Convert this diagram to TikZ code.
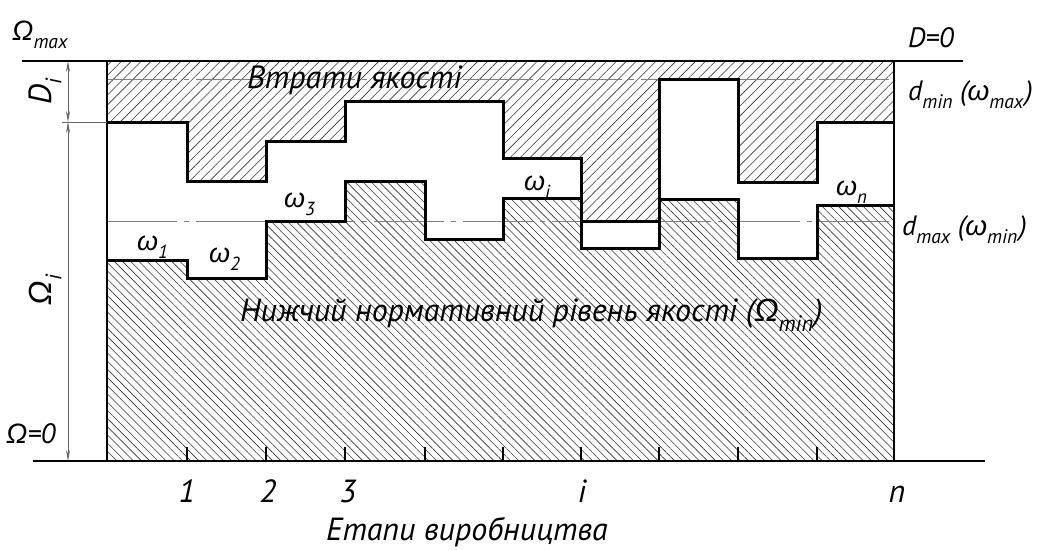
\documentclass[tikz,border=0pt]{standalone}
\usepackage{fontspec}
\usepackage{graphicx}
\setmainfont{PT Sans}
\newfontfamily\grk{Liberation Sans}
\usetikzlibrary{patterns.meta,arrows.meta}
% Greek letters taken from a font that has them
\newcommand\Om{{\grk\itshape Ω}}
\newcommand\om{{\grk\itshape ω}}
% lowered subscript scaled to the surrounding text
\newcommand\lsub[1]{\raisebox{-0.32em}{\scalebox{0.7}{#1}}}
\begin{document}
\begin{tikzpicture}[x=1pt,y=-1pt,
  lbl/.style={font=\fontsize{32}{36}\selectfont\itshape, inner sep=0pt},
  sidelbl/.style={font=\fontsize{28}{32}\selectfont\itshape, inner sep=0pt},
  omlbl/.style={font=\fontsize{27}{30}\selectfont\itshape, inner sep=0pt, anchor=base west},
  frameline/.style={line width=2pt},
  stepline/.style={line width=3pt, line join=miter},
  axisline/.style={line width=2.2pt},
  centreline/.style={gray, line width=0.9pt, dash pattern=on 70pt off 7pt on 5pt off 7pt},
  dimline/.style={black!60, line width=0.7pt, >={Stealth[length=11pt,width=4pt]}},
  tick/.style={line width=1.3pt}]
\useasboundingbox (0,0) rectangle (1040,549);

% losses (upper hatched band) and the lower normative level
\fill[pattern={Lines[angle=45,distance=7pt,line width=0.6pt]}, pattern color=black!80]
  (107,61) -- (107,122) -- (187,122) -- (187,181) -- (266,181) -- (266,141)
  -- (345,141) -- (345,101) -- (503,101) -- (503,158) -- (581,158) -- (581,221)
  -- (659,221) -- (659,79) -- (738,79) -- (738,182) -- (817,182) -- (817,122)
  -- (894,122) -- (894,61) -- cycle;
\fill[pattern={Lines[angle=-45,distance=5.8pt,line width=0.6pt]}, pattern color=black!80]
  (107,461) -- (107,260) -- (187,260) -- (187,278) -- (266,278) -- (266,221)
  -- (345,221) -- (345,181) -- (425,181) -- (425,239) -- (503,239) -- (503,198)
  -- (581,198) -- (581,248) -- (659,248) -- (659,199) -- (738,199) -- (738,258)
  -- (817,258) -- (817,205) -- (894,205) -- (894,461) -- cycle;

% limit levels d_min and d_max
\draw[centreline] (107,79) -- (894,79);
\draw[centreline] (107,221) -- (894,221);

% stepped boundaries
\draw[stepline] (107,122) -- (187,122) -- (187,181) -- (266,181) -- (266,141)
  -- (345,141) -- (345,101) -- (503,101) -- (503,158) -- (581,158) -- (581,221)
  -- (659,221) -- (659,79) -- (738,79) -- (738,182) -- (817,182) -- (817,122)
  -- (894,122);
\draw[stepline] (107,260) -- (187,260) -- (187,278) -- (266,278) -- (266,221)
  -- (345,221) -- (345,181) -- (425,181) -- (425,239) -- (503,239) -- (503,198)
  -- (581,198) -- (581,248) -- (659,248) -- (659,199) -- (738,199) -- (738,258)
  -- (817,258) -- (817,205) -- (894,205);

% frame
\draw[frameline] (22,61) -- (963,61);
\draw[axisline] (33,461) -- (985,461);
\draw[frameline] (107,61) -- (107,461);
\draw[frameline] (894,61) -- (894,461);
\foreach \x in {187,266,345,425,503,581,659,738,817}
  \draw[tick] (\x,447) -- (\x,461);

% dimensions D_i and Omega_i
\coordinate (dtop) at (68,61);
\coordinate (dmid) at (68,122);
\coordinate (dbot) at (68,461);
\coordinate (ext) at (62,122);
\coordinate (extend) at (107,122);
\draw[dimline] (ext) -- (extend);
\draw[dimline, <->] (dtop) -- (dmid);
\draw[dimline, <->] (dmid) -- (dbot);

% labels
\node[sidelbl, anchor=base west] (qmax) at (12,40) {\Om\lsub{max}};
\node[sidelbl, anchor=base west] (q0) at (6,443) {\Om=0};
\node[sidelbl, anchor=base west] (d0) at (908,47) {D=0};
\node[lbl, rotate=90] (di) at (45,92) {D\lsub{i}};
\node[lbl, rotate=90] (qi) at (45,290) {\Om\lsub{i}};
\node[lbl, anchor=base west] (loss) at (247,88) {Втрати якості};
\node[lbl, anchor=base west] (norm) at (240,321) {Нижчий нормативний рівень якості (\Om\lsub{min}\kern1pt)};
\node[sidelbl, anchor=base west] (dmin) at (908,100) {d\lsub{min} (\om\lsub{max}\kern2pt)};
\node[sidelbl, anchor=base west] (dmax) at (902,235) {d\lsub{max} (\om\lsub{min}\kern2pt)};
\node[omlbl] (w1) at (137,250) {\om\lsub{1}};
\node[omlbl] (w2) at (209,262) {\om\lsub{2}};
\node[omlbl] (w3) at (284,207) {\om\lsub{3}};
\node[omlbl] (wi) at (524,190) {\om\lsub{i}};
\node[omlbl] (wn) at (836,195) {\om\lsub{n}};
\node[lbl, anchor=base] (s1) at (187,502) {1};
\node[lbl, anchor=base] (s2) at (268,502) {2};
\node[lbl, anchor=base] (s3) at (348,502) {3};
\node[lbl, anchor=base] (si) at (582,502) {i};
\node[lbl, anchor=base] (sn) at (897,502) {n};
\node[lbl, anchor=base west] (stages) at (326,540) {Етапи виробництва};
\end{tikzpicture}
\end{document}
